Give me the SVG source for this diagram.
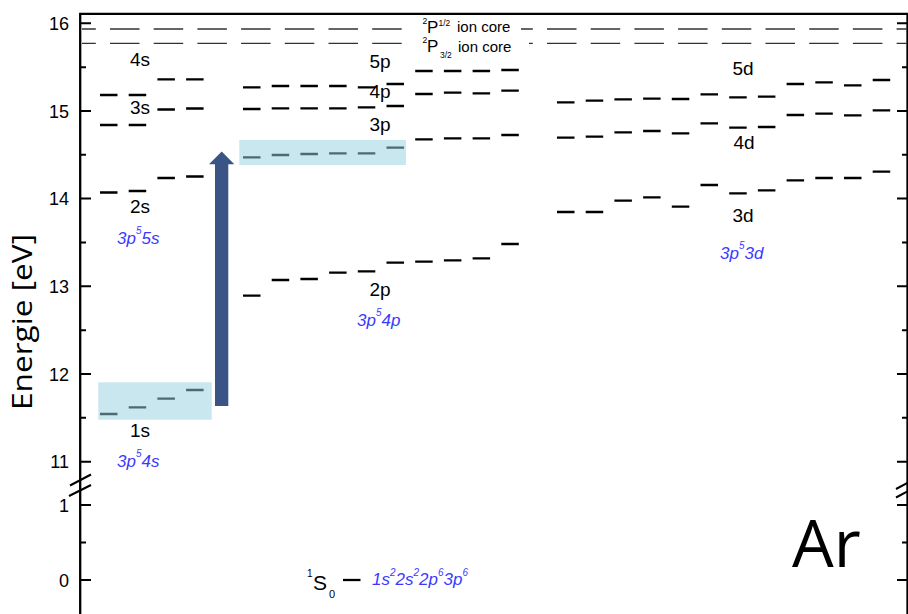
<svg xmlns="http://www.w3.org/2000/svg" width="908" height="614" viewBox="0 0 908 614">
<style>
.ax{stroke:#000;stroke-width:2.3;fill:none}
.tk{stroke:#000;stroke-width:2;fill:none}
.lv{stroke:#000;stroke-width:2.3;fill:none}
.ion{stroke:#333;stroke-width:1.3;fill:none;stroke-dasharray:29.5 14.2;stroke-dashoffset:15.7}
.num{font-family:"Liberation Sans",Arial,sans-serif;font-size:18px;fill:#000;text-anchor:end}
.lab{font-family:"Liberation Sans",Arial,sans-serif;font-size:19px;fill:#000;text-anchor:middle}
.cfg{font-family:"Liberation Sans",Arial,sans-serif;font-size:17px;font-style:italic;fill:#3a3aff}
.sup{font-size:10px}
.ionl{font-family:"Liberation Sans",Arial,sans-serif;font-size:15px;fill:#000}
.ions{font-family:"Liberation Sans",Arial,sans-serif;font-size:8.5px;fill:#000}
.ionP{font-family:"Liberation Sans",Arial,sans-serif;font-size:17px;fill:#000}
.hl{fill:#96d0de;fill-opacity:0.51}
</style>
<rect width="908" height="614" fill="#fff"/>

<g id="axes">
<path class="ax" d="M80.2 614V13.8H907.5V614"/>
<path class="tk" d="M80 23.3h11M80 111h11M80 198.6h11M80 286.3h11M80 374h11M80 461.7h11M80 505h11M80 580h11
M80 67.2h6M80 154.8h6M80 242.5h6M80 330.2h6M80 417.8h6M80 542.5h6
M907 23.3h-10M907 111h-10M907 198.6h-10M907 286.3h-10M907 374h-10M907 461.7h-10M907 505h-10M907 580h-10
M907 67.2h-5M907 154.8h-5M907 242.5h-5M907 330.2h-5M907 417.8h-5M907 542.5h-5"/>
<path class="tk" d="M70 485.5L91 474.5M69 496L91 485M896 489L910 481.7M896 497.5L910 490.2"/>
<text class="num" x="69" y="29.8">16</text>
<text class="num" x="69" y="117.5">15</text>
<text class="num" x="69" y="205">14</text>
<text class="num" x="69" y="292.7">13</text>
<text class="num" x="69" y="380.5">12</text>
<text class="num" x="69" y="468.2">11</text>
<text class="num" x="69" y="511.5">1</text>
<text class="num" x="69" y="586.5">0</text>
<text transform="translate(32 410) rotate(-90)" font-family="'Open Sans',sans-serif" font-size="27" textLength="176" lengthAdjust="spacingAndGlyphs" fill="#000">Energie [eV]</text>
</g>

<g id="ion-core">
<path class="ion" d="M82 29H907M82 43.3H907"/>
<rect x="402" y="22" width="119" height="12.5" fill="#fff"/>
<rect x="402" y="37" width="127" height="12.5" fill="#fff"/>
<text class="ions" x="422.5" y="24">2</text>
<text class="ionP" x="427" y="33.3">P</text>
<text class="ions" x="438.5" y="25.5">1/2</text>
<text class="ionl" x="457" y="32.3">ion core</text>
<text class="ions" x="422.5" y="43">2</text>
<text class="ionP" x="427" y="52.3">P</text>
<text class="ions" x="440" y="58">3/2</text>
<text class="ionl" x="458" y="52">ion core</text>
</g>

<g id="levels-s">
<path class="lv" d="M100 414h17.5M128.7 407.3h17.5M157.4 398.7h17.5M186.1 390h17.5
M100 192.5h17.5M128.7 191h17.5M157.4 178h17.5M186.1 176.5h17.5
M100 125h17.5M128.7 125h17.5M157.4 109.5h17.5M186.1 108.5h17.5
M100 95h17.5M128.7 95h17.5M157.4 79.3h17.5M186.1 79.3h17.5"/>
<text class="lab" x="140" y="66">4s</text>
<text class="lab" x="140" y="113.5">3s</text>
<text class="lab" x="140" y="213">2s</text>
<text class="lab" x="140" y="437">1s</text>
<text class="cfg" x="117" y="243.5">3p<tspan class="sup" dy="-10">5</tspan><tspan dy="10">5s</tspan></text>
<text class="cfg" x="117" y="466.5">3p<tspan class="sup" dy="-10">5</tspan><tspan dy="10">4s</tspan></text>
</g>

<g id="levels-p">
<path class="lv" d="M243 295.7h17.5M271.7 280h17.5M300.4 279h17.5M329.1 272.7h17.5M357.8 271.3h17.5M386.5 262.7h17.5M415.2 261.7h17.5M443.9 260.3h17.5M472.6 258.3h17.5M501.3 244h17.5
M243 157.3h17.5M271.7 155h17.5M300.4 154h17.5M329.1 153.3h17.5M357.8 153.3h17.5M386.5 147.7h17.5M415.2 139.3h17.5M443.9 138.3h17.5M472.6 138.3h17.5M501.3 135h17.5
M243 109h17.5M271.7 108.3h17.5M300.4 108.3h17.5M329.1 108.3h17.5M357.8 107.3h17.5M386.5 106h17.5M415.2 94h17.5M443.9 92.7h17.5M472.6 93.3h17.5M501.3 90.7h17.5
M243 87.3h17.5M271.7 86h17.5M300.4 86h17.5M329.1 86h17.5M357.8 87.3h17.5M386.5 84h17.5M415.2 71h17.5M443.9 71h17.5M472.6 71h17.5M501.3 70h17.5"/>
<text class="lab" x="380" y="68">5p</text>
<text class="lab" x="380" y="98">4p</text>
<text class="lab" x="380" y="130.5">3p</text>
<text class="lab" x="380" y="296">2p</text>
<text class="cfg" x="357" y="325.5">3p<tspan class="sup" dy="-10">5</tspan><tspan dy="10">4p</tspan></text>
</g>

<g id="levels-d">
<path class="lv" d="M557 212h17.5M585.7 212h17.5M614.4 200.7h17.5M643.1 197.3h17.5M671.8 206.7h17.5M700.5 185h17.5M729.2 193.3h17.5M757.9 190.3h17.5M786.6 180.3h17.5M815.3 178h17.5M844 178h17.5M872.7 171.7h17.5
M557 137.7h17.5M585.7 136.7h17.5M614.4 132.3h17.5M643.1 131h17.5M671.8 133.3h17.5M700.5 123.3h17.5M729.2 127.7h17.5M757.9 127h17.5M786.6 115h17.5M815.3 113.7h17.5M844 115.3h17.5M872.7 110.3h17.5
M557 102.3h17.5M585.7 100.7h17.5M614.4 99.3h17.5M643.1 98.7h17.5M671.8 99h17.5M700.5 94.3h17.5M729.2 97.3h17.5M757.9 96.7h17.5M786.6 84h17.5M815.3 82.3h17.5M844 85.3h17.5M872.7 80h17.5"/>
<text class="lab" x="743" y="75">5d</text>
<text class="lab" x="744" y="149">4d</text>
<text class="lab" x="743" y="221.5">3d</text>
<text class="cfg" x="720" y="258.5">3p<tspan class="sup" dy="-10">5</tspan><tspan dy="10">3d</tspan></text>
</g>

<g id="ground-state">
<path class="lv" d="M343 580h17.5"/>
<text font-family="'Liberation Sans',Arial,sans-serif" fill="#000" x="307" y="577" font-size="10">1</text>
<text font-family="'Liberation Sans',Arial,sans-serif" fill="#000" x="313" y="590" font-size="21">S</text>
<text font-family="'Liberation Sans',Arial,sans-serif" fill="#000" x="329" y="598" font-size="11">0</text>
<text class="cfg" x="372" y="585">1s<tspan class="sup" dy="-9">2</tspan><tspan dy="9">2s</tspan><tspan class="sup" dy="-9">2</tspan><tspan dy="9">2p</tspan><tspan class="sup" dy="-9">6</tspan><tspan dy="9">3p</tspan><tspan class="sup" dy="-9">6</tspan></text>
</g>

<g id="highlights">
<rect class="hl" x="98.3" y="382.3" width="113.4" height="37.4"/>
<rect class="hl" x="239.3" y="140" width="166.7" height="25"/>
</g>

<g id="connectors">
<path d="M215 406V164.3H209L221.7 151.5L234.3 164.3H228.3V406Z" fill="#3a5486"/>
</g>

<g id="title">
<text x="792" y="567" font-family="'Open Sans',sans-serif" font-size="66" fill="#000">Ar</text>
</g>
</svg>
